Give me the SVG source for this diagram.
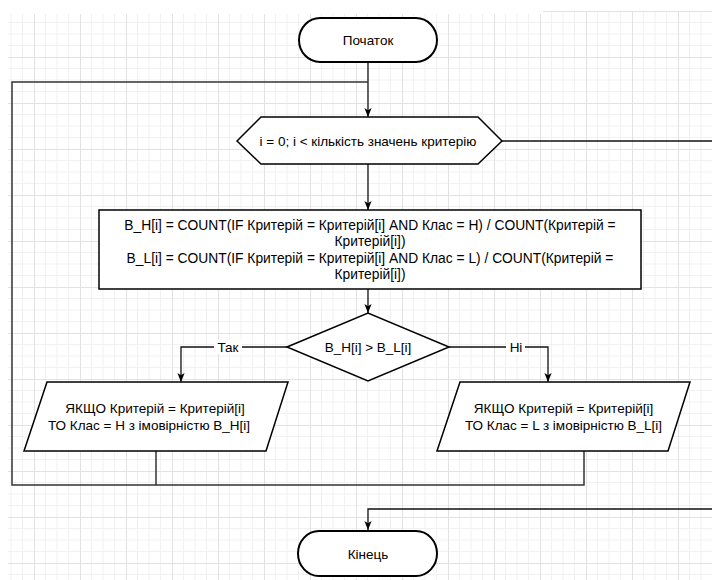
<svg xmlns="http://www.w3.org/2000/svg" width="712" height="580" viewBox="0 0 712 580">
  <defs>
    <!-- canvas grid: minor every 11.5px, major every 46px -->
    <pattern id="grid" patternUnits="userSpaceOnUse" x="34" y="11" width="46" height="46">
      <path d="M11.5,0 V46 M23,0 V46 M34.5,0 V46 M0,11.5 H46 M0,23 H46 M0,34.5 H46" fill="none" stroke="#f1f1f1" stroke-width="1"/>
      <path d="M0.5,0 V46 M0,0.5 H46" fill="none" stroke="#e2e2e2" stroke-width="1"/>
    </pattern>
    <marker id="arrow" markerUnits="userSpaceOnUse" viewBox="0 0 10 10" markerWidth="9" markerHeight="10" refX="10" refY="5" orient="auto">
      <path d="M0,1 L10,5 L0,9 L2.5,5 z" fill="#000"/>
    </marker>
  </defs>
  <style>
    .shape { fill: #fff; stroke: #000; stroke-width: 1.5; }
    .term { fill: #fff; stroke: #000; stroke-width: 2; }
    .edge { fill: none; stroke: #111; stroke-width: 1.3; }
    .loop { fill: none; stroke: #333; stroke-width: 1.5; }
    text { font-family: "Liberation Sans", Arial, sans-serif; font-size: 13.5px; fill: #000; text-anchor: middle; }
    .box { font-size: 13.8px; }
  </style>

  <!-- background -->
  <rect x="0" y="0" width="712" height="580" fill="#fff"/>
  <rect x="8" y="14" width="704" height="566" fill="url(#grid)"/>
  <rect x="543" y="11" width="169" height="4" fill="url(#grid)"/>

  <!-- connectors -->
  <g id="connectors">
    <path class="edge" d="M368,62 V117" marker-end="url(#arrow)"/>
    <path class="loop" d="M584,451 V485 H12 V82 H368"/>
    <path class="loop" d="M156,451 V485"/>
    <path class="edge" d="M502,141 H712"/>
    <path class="edge" d="M368,164 V210" marker-end="url(#arrow)"/>
    <path class="edge" d="M368,289 V313" marker-end="url(#arrow)"/>
    <path class="edge" d="M287,347 H181 V382" marker-end="url(#arrow)"/>
    <path class="edge" d="M449,347 H548 V382" marker-end="url(#arrow)"/>
    <path class="edge" d="M712,509 H368 V530" marker-end="url(#arrow)"/>
    <rect x="214" y="340" width="28" height="14" fill="#fff"/>
    <text x="228" y="351.5">Так</text>
    <rect x="506" y="340" width="19" height="14" fill="#fff"/>
    <text x="516" y="351.5">Ні</text>
  </g>

  <g id="start">
    <rect class="term" x="299" y="18" width="138" height="44" rx="21" ry="22"/>
    <text x="368" y="44.5">Початок</text>
  </g>

  <g id="loop">
    <polygon class="shape" points="237,141 261,117 478,117 502,141 478,164 261,164"/>
    <text x="368" y="145.5">i = 0; i &lt; кількість значень критерію</text>
  </g>

  <g id="compute">
    <rect class="shape" x="99" y="210" width="542" height="79"/>
    <text class="box" x="370" y="229.5">B_H[i] = COUNT(IF Критерій = Критерій[i] AND Клас = H) / COUNT(Критерій =</text>
    <text class="box" x="370" y="246">Критерій[i])</text>
    <text class="box" x="370" y="262.5">B_L[i] = COUNT(IF Критерій = Критерій[i] AND Клас = L) / COUNT(Критерій =</text>
    <text class="box" x="370" y="279">Критерій[i])</text>
  </g>

  <g id="compare">
    <polygon class="shape" points="287,347 368,313 449,347 368,381"/>
    <text x="368" y="352">B_H[i] &gt; B_L[i]</text>
  </g>

  <g id="rule-h">
    <polygon class="shape" points="47,382 288,382 266,451 24,451"/>
    <text x="155" y="413">ЯКЩО Критерій = Критерій[i]</text>
    <text x="149" y="430">ТО Клас = H з імовірністю B_H[i]</text>
  </g>

  <g id="rule-l">
    <polygon class="shape" points="460,382 690,382 668,451 437,451"/>
    <text x="563.5" y="413">ЯКЩО Критерій = Критерій[i]</text>
    <text x="563.5" y="430">ТО Клас = L з імовірністю B_L[i]</text>
  </g>

  <g id="end">
    <rect class="term" x="298" y="531" width="139" height="45" rx="21" ry="22.5"/>
    <text x="368" y="559">Кінець</text>
  </g>
</svg>
